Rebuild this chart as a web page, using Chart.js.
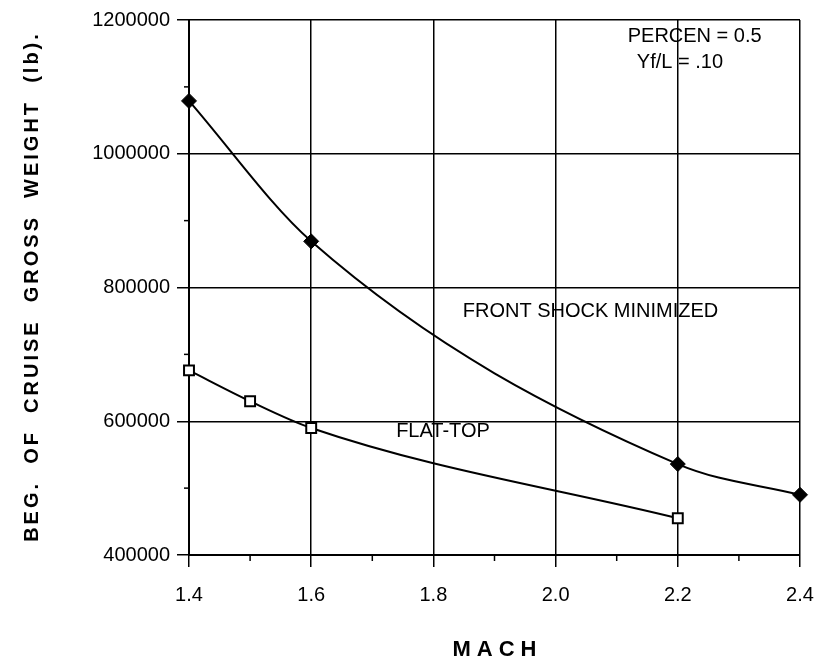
<!DOCTYPE html>
<html lang="en">
<head>
    <meta charset="UTF-8">
    <title>Beg. of cruise gross weight vs Mach</title>
    <script src="https://cdn.jsdelivr.net/npm/chart.js"></script>
    <style>
        html, body { margin: 0; padding: 0; background: #fff; }
        #chartContainer { width: 815px; height: 664px; }
    </style>
</head>
<body>
    <div id="chartContainer">
        <canvas id="weightChart" width="815" height="664"></canvas>
    </div>

    <script>
        // valeurs
        const frontMach = [1.4, 1.6, 2.2, 2.4];
        const frontWeight = [1079000, 869000, 536000, 490000];
        const flatMach = [1.4, 1.5, 1.6, 2.2];
        const flatWeight = [676000, 630000, 590000, 455000];

        const machTicks = [1.4, 1.6, 1.8, 2.0, 2.2, 2.4];
        const machMinor = [1.5, 1.7, 1.9, 2.1, 2.3];
        const weightTicks = [400000, 600000, 800000, 1000000, 1200000];
        const weightMinor = [500000, 700000, 900000, 1100000];

        const FONT = "'Liberation Sans', Arial, sans-serif";

        const toPoints = (xs, ys) => xs.map((x, i) => ({ x: x, y: ys[i] }));

        // textes, ticks mineurs et titres d'axes
        const extrasPlugin = {
            id: 'extras',
            afterDraw(chart) {
                const ctx = chart.ctx;
                const xs = chart.scales.x;
                const ys = chart.scales.y;
                const area = chart.chartArea;

                ctx.save();
                ctx.strokeStyle = '#000';
                ctx.lineWidth = 1.5;
                machMinor.forEach(v => {
                    const px = xs.getPixelForValue(v);
                    ctx.beginPath();
                    ctx.moveTo(px, area.bottom);
                    ctx.lineTo(px, area.bottom + 6);
                    ctx.stroke();
                });
                weightMinor.forEach(v => {
                    const py = ys.getPixelForValue(v);
                    ctx.beginPath();
                    ctx.moveTo(area.left - 5, py);
                    ctx.lineTo(area.left, py);
                    ctx.stroke();
                });

                ctx.fillStyle = '#000';
                ctx.textBaseline = 'middle';
                ctx.textAlign = 'left';
                ctx.font = '20px ' + FONT;
                ctx.fillText('PERCEN = 0.5', xs.getPixelForValue(2.118), ys.getPixelForValue(1176000));
                ctx.fillText('Yf/L = .10', xs.getPixelForValue(2.133), ys.getPixelForValue(1137000));
                ctx.fillText('FRONT SHOCK MINIMIZED', xs.getPixelForValue(1.848), ys.getPixelForValue(764000));
                ctx.fillText('FLAT-TOP', xs.getPixelForValue(1.739), ys.getPixelForValue(584000));

                // titres d'axes (espacement des lettres)
                ctx.font = 'bold 22px ' + FONT;
                ctx.textAlign = 'center';
                ctx.letterSpacing = '6px';
                ctx.fillText('MACH', (area.left + area.right) / 2 + 3, 650);

                ctx.translate(32, (area.top + area.bottom) / 2);
                ctx.rotate(-Math.PI / 2);
                ctx.font = 'bold 20px ' + FONT;
                ctx.letterSpacing = '3px';
                ctx.fillText('BEG.  OF  CRUISE  GROSS  WEIGHT  (lb).', 1, 0);
                ctx.restore();
            }
        };

        const ctx = document.getElementById('weightChart').getContext('2d');

        new Chart(ctx, {
            type: 'line',
            data: {
                datasets: [{
                    label: 'FRONT SHOCK MINIMIZED',
                    data: toPoints(frontMach, frontWeight),
                    borderColor: '#000',
                    backgroundColor: '#000',
                    borderWidth: 2,
                    cubicInterpolationMode: 'monotone',
                    clip: false,
                    pointStyle: 'rectRot',
                    pointRadius: 7.5,
                    pointBorderWidth: 1,
                    pointBackgroundColor: '#000'
                }, {
                    label: 'FLAT-TOP',
                    data: toPoints(flatMach, flatWeight),
                    borderColor: '#000',
                    backgroundColor: '#fff',
                    borderWidth: 2,
                    cubicInterpolationMode: 'monotone',
                    clip: false,
                    pointStyle: 'rect',
                    pointRadius: 7,
                    pointBorderWidth: 2,
                    pointBackgroundColor: '#fff'
                }]
            },
            options: {
                responsive: false,
                animation: false,
                layout: { padding: { top: 20, right: 0, left: 0, bottom: 0 } },
                plugins: {
                    legend: { display: false },
                    tooltip: { enabled: false }
                },
                scales: {
                    x: {
                        type: 'linear',
                        min: 1.4,
                        max: 2.4,
                        afterBuildTicks: scale => { scale.ticks = machTicks.map(v => ({ value: v })); },
                        afterFit: scale => {
                            scale.height = 109;
                            scale.paddingRight = 15;
                            scale.paddingLeft = 0;
                        },
                        ticks: {
                            color: '#000',
                            font: { family: FONT, size: 20 },
                            padding: 16,
                            maxRotation: 0,
                            callback: v => v.toFixed(1)
                        },
                        grid: { color: '#000', lineWidth: 1.5, tickLength: 12 },
                        border: { color: '#000', width: 2 }
                    },
                    y: {
                        type: 'linear',
                        min: 400000,
                        max: 1200000,
                        afterBuildTicks: scale => { scale.ticks = weightTicks.map(v => ({ value: v })); },
                        afterFit: scale => { scale.width = 189; },
                        ticks: {
                            color: '#000',
                            font: { family: FONT, size: 20 },
                            padding: 7,
                            callback: v => String(v)
                        },
                        grid: { color: '#000', lineWidth: 1.5, tickLength: 12 },
                        border: { color: '#000', width: 2 }
                    }
                }
            },
            plugins: [extrasPlugin]
        });
    </script>
</body>
</html>
